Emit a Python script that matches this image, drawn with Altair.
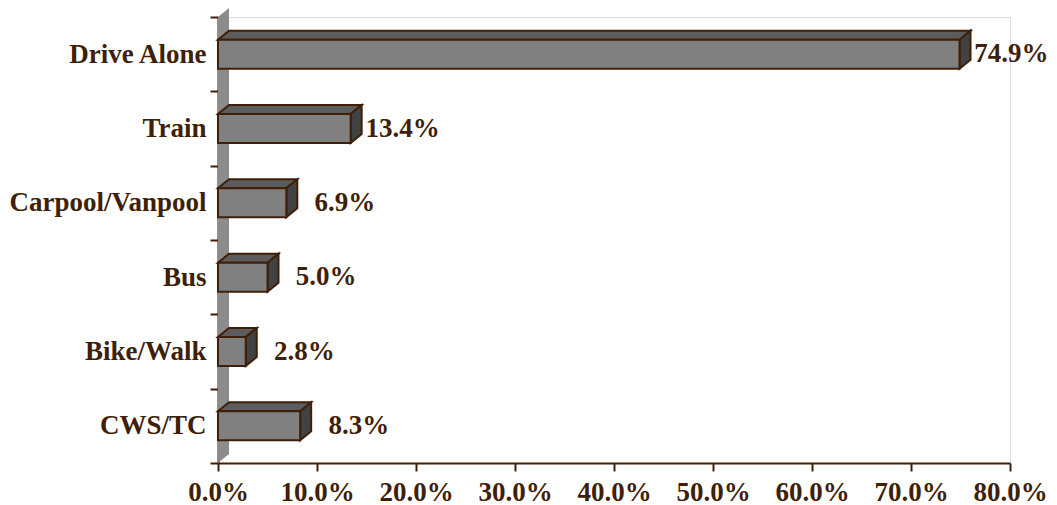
import json
import altair as alt
import pandas as pd

categories = ["Drive Alone", "Train", "Carpool/Vanpool", "Bus", "Bike/Walk", "CWS/TC"]
values = [74.9, 13.4, 6.9, 5.0, 2.8, 8.3]
value_labels = ["74.9%", "13.4%", "6.9%", "5.0%", "2.8%", "8.3%"]
x_ticks = [0, 10, 20, 30, 40, 50, 60, 70, 80]

BROWN = "#3f1f08"
FONT = "Liberation Serif"
FS = 27
N = len(categories)
W, H = 792, 446
DX = 80 * 11 / W      # 3D depth in x units
DY = N * 9 / H        # 3D depth in y units
HALF = N * 14.5 / H   # half height of the front face

front, top, side, labels = [], [], [], []
for i, (c, v, lab) in enumerate(zip(categories, values, value_labels)):
    ctr = N - i - 0.5
    y0, y1 = ctr - HALF, ctr + HALF
    front.append({"cat": c, "a": 0, "a2": v, "b": y0, "b2": y1})
    for k, (x, a, b) in enumerate([(0, y1, y1), (DX, y1, y1 + DY), (v, y1, y1 + DY),
                                   (v + DX, y1 + DY, y1 + DY)]):
        top.append({"cat": c, "k": k, "px": x, "lo": a, "hi": b})
    for k, (x, a, b) in enumerate([(v, y0, y1), (v + DX, y0 + DY, y1 + DY)]):
        side.append({"cat": c, "k": k, "px": x, "lo": a, "hi": b})
    labels.append({"cat": c, "px": v, "py": ctr, "t": lab})

wall = pd.DataFrame([{"px": 0, "lo": 0, "hi": N}, {"px": DX, "lo": DY, "hi": N + DY}])

xs = alt.Scale(domain=[0, 80], nice=False, zero=True)
ys = alt.Scale(domain=[0, N], nice=False, zero=True)

name_arr = json.dumps([""] + categories[::-1])

xaxis = alt.Axis(values=x_ticks, labelExpr="format(datum.value, '.1f') + '%'",
                 title=None, grid=False, domainColor=BROWN, domainWidth=2,
                 tickColor=BROWN, tickWidth=2, tickSize=8, labelFont=FONT,
                 labelFontWeight="bold", labelFontSize=FS, labelColor=BROWN,
                 labelPadding=8, labelOverlap=False, labelFlush=False)
yaxis = alt.Axis(values=list(range(N + 1)), labelExpr=f"{name_arr}[datum.value]",
                 title=None, grid=False, domainColor=BROWN, domainWidth=2,
                 tickColor=BROWN, tickWidth=2, tickSize=8, labelFont=FONT,
                 labelFontWeight="bold", labelFontSize=FS, labelColor=BROWN,
                 labelOffset=H / N / 2, labelOverlap=False, labelPadding=4,
                 labelBaseline="middle", labelLimit=400, labelFlush=False)

wall_layer = alt.Chart(wall).mark_area(color="#8c8c8c", orient="vertical").encode(
    x=alt.X("px:Q", scale=xs, axis=xaxis),
    y=alt.Y("lo:Q", scale=ys, axis=yaxis, stack=None),
    y2="hi:Q",
)


def face(rows, fill):
    layers = []
    df = pd.DataFrame(rows)
    for c in categories:
        layers.append(
            alt.Chart(df[df["cat"] == c]).mark_area(
                fill=fill, stroke=BROWN, strokeWidth=2, orient="vertical",
                strokeJoin="miter", opacity=1
            ).encode(x=alt.X("px:Q", scale=xs), y=alt.Y("lo:Q", scale=ys, stack=None),
                     y2="hi:Q")
        )
    return layers


top_layers = face(top, "#5c5c5c")
side_layers = face(side, "#424242")

front_layer = alt.Chart(pd.DataFrame(front)).mark_rect(
    color="#808080", stroke=BROWN, strokeWidth=2
).encode(x=alt.X("a:Q", scale=xs), x2="a2:Q", y=alt.Y("b:Q", scale=ys), y2="b2:Q")

text_layer = alt.Chart(pd.DataFrame(labels)).mark_text(
    align="right", baseline="middle", dx=89, font=FONT, fontWeight="bold",
    fontSize=FS, color=BROWN
).encode(x=alt.X("px:Q", scale=xs), y=alt.Y("py:Q", scale=ys), text="t:N")

chart = alt.layer(wall_layer, *top_layers, *side_layers, front_layer, text_layer).properties(
    width=W, height=H,
    autosize=alt.AutoSizeParams(type="none"),
    padding={"left": 210, "top": 9, "right": 39, "bottom": 46},
).configure_view(stroke=None).configure(background="white")

chart.save("out.html", embed_options={"renderer": "svg", "actions": False})
